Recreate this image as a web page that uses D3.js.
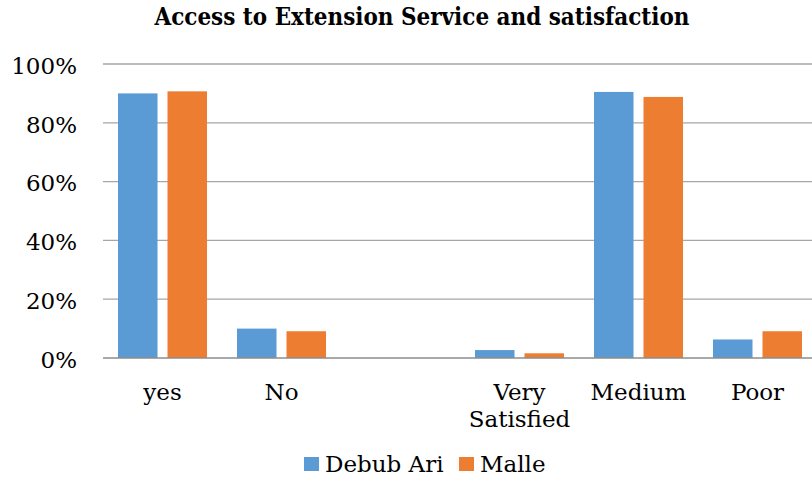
<!DOCTYPE html>
<html><head><meta charset="utf-8">
<script src="https://cdn.jsdelivr.net/npm/d3@7"></script>
<style>html,body{margin:0;padding:0;background:#fff;overflow:hidden}</style>
</head><body>
<svg id="chart" width="812" height="479"></svg>
<script>
const categories = ["yes", "No", "", "Very Satisfied", "Medium", "Poor"];
const seriesNames = ["Debub Ari", "Malle"];
const debubAri = [0.90, 0.10, null, 0.027, 0.905, 0.063];
const malle = [0.907, 0.091, null, 0.016, 0.888, 0.091];
const yTicks = [0, 0.2, 0.4, 0.6, 0.8, 1.0];
const colors = ["#5b9bd5", "#ed7d31"];
const title = "Access to Extension Service and satisfaction";

const svg = d3.select("#chart");
const font = "'DejaVu Serif', serif";
const fs = 23;
const plotLeft = 103, plotRight = 817, plotTop = 64, plotBottom = 358;

const x0 = d3.scaleBand().domain(categories).range([plotLeft, plotRight]).paddingInner(0).paddingOuter(0);
const x1 = d3.scaleBand().domain(seriesNames).range([0, x0.bandwidth()]).paddingInner(0.202).paddingOuter(0.303);
const y = d3.scaleLinear().domain([0, 1]).range([plotBottom, plotTop]);

// gridlines
svg.append("g").selectAll("line").data(yTicks.filter(d => d > 0)).join("line")
  .attr("x1", plotLeft).attr("x2", 812)
  .attr("y1", d => y(d)).attr("y2", d => y(d))
  .attr("stroke", "#a6a6a6").attr("stroke-width", 1.3);

// y labels
const yAxis = d3.axisLeft(y).tickValues(yTicks).tickFormat(d3.format(".0%")).tickSize(0).tickPadding(0);
const yg = svg.append("g").attr("transform", "translate(77,0)").call(yAxis);
yg.select(".domain").remove();
yg.selectAll("text").attr("font-family", font).attr("font-size", fs).attr("fill", "#000").attr("dy", "0.4em");

// bars
const series = [debubAri, malle];
series.forEach((vals, si) => {
  svg.append("g").selectAll("rect")
    .data(categories.map((c, i) => ({c, v: vals[i]})).filter(d => d.v != null))
    .join("rect")
    .attr("x", d => x0(d.c) + x1(seriesNames[si]))
    .attr("width", x1.bandwidth())
    .attr("y", d => y(d.v))
    .attr("height", d => y(0) - y(d.v))
    .attr("fill", colors[si]);
});

// x axis line
svg.append("line").attr("x1", plotLeft).attr("x2", 812).attr("y1", y(0)).attr("y2", y(0))
  .attr("stroke", "#8c8c8c").attr("stroke-width", 1.5);

// x labels
const xl = svg.append("g").selectAll("text").data(categories).join("text")
  .attr("text-anchor", "middle")
  .attr("font-family", font).attr("font-size", fs).attr("fill", "#000")
  .attr("x", d => x0(d) + x0.bandwidth() / 2)
  .attr("y", 400);
xl.each(function(d) {
  const words = d.split(" ");
  const t = d3.select(this);
  words.forEach((w, i) => {
    t.append("tspan").attr("x", x0(d) + x0.bandwidth() / 2).attr("dy", i === 0 ? 0 : 27).text(w);
  });
});

// title
svg.append("text").attr("x", 422).attr("y", 25).attr("text-anchor", "middle")
  .attr("font-family", font).attr("font-weight", "bold").attr("font-size", 24)
  .attr("textLength", 535).attr("lengthAdjust", "spacingAndGlyphs")
  .text(title);

// legend
const legendItems = [{name: seriesNames[0], x: 304}, {name: seriesNames[1], x: 459}];
const lg = svg.append("g");
legendItems.forEach((it, i) => {
  lg.append("rect").attr("x", it.x).attr("y", 457).attr("width", 15).attr("height", 14).attr("fill", colors[i]);
  lg.append("text").attr("x", it.x + 21).attr("y", 472)
    .attr("font-family", font).attr("font-size", fs).attr("fill", "#000").text(it.name);
});
</script>
</body></html>
